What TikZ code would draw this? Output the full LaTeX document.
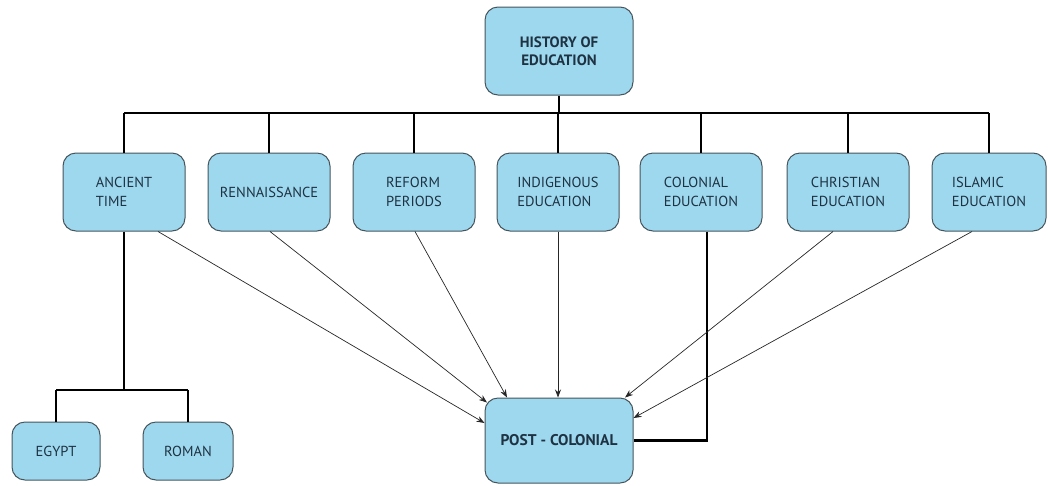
\documentclass[tikz,border=0pt]{standalone}
\usepackage{fontspec}
\setmainfont{PT Sans}
\usetikzlibrary{calc,arrows.meta}
\definecolor{boxfill}{RGB}{158,216,238}
\definecolor{boxline}{RGB}{70,85,92}
\definecolor{txt}{RGB}{30,50,66}
\begin{document}
\begin{tikzpicture}[x=1pt,y=-1pt,
  box/.style={draw=boxline, fill=boxfill, line width=1pt, rounded corners=13pt,
    minimum width=122pt, minimum height=78pt, inner sep=0pt, text=txt, align=left,
    font=\fontsize{14.5}{19}\selectfont},
  trunk/.style={line width=2.8pt, black},
  feed/.style={line width=0.7pt, draw=black!85, -{Stealth[length=8pt,width=6pt]}}]
\useasboundingbox (0,0) rectangle (1048,485);
% nodes
\node[box, minimum width=148pt, minimum height=88pt, align=center,
      font=\bfseries\fontsize{15}{18}\selectfont] (top) at (559,51) {HISTORY OF\\EDUCATION};
\node[box] (anc) at (124,192) {ANCIENT\\TIME};
\node[box] (ren) at (269,192) {RENNAISSANCE};
\node[box] (ref) at (414,192) {REFORM\\PERIODS};
\node[box] (ind) at (558,192) {INDIGENOUS\\EDUCATION};
\node[box] (col) at (701,192) {COLONIAL\\EDUCATION};
\node[box] (chr) at (848,192) {CHRISTIAN\\EDUCATION};
\node[box, minimum width=114pt] (isl) at (989,192) {ISLAMIC\\EDUCATION};
\node[box, minimum width=88pt, minimum height=58pt] (egy) at (56,451) {EGYPT};
\node[box, minimum width=90pt, minimum height=58pt] (rom) at (188,451) {ROMAN};
\node[box, minimum width=148pt, minimum height=85pt, align=center,
      font=\bfseries\fontsize{15.5}{18}\selectfont] (post) at (559,440.5) {POST - COLONIAL};
% bus coordinates
\coordinate (bus) at (0,113);
\coordinate (sub) at (0,390);
% top tree
\draw[trunk] (top.south) -- (top.south |- bus);
\draw[trunk] (anc.north |- bus) -- (isl.north |- bus);
\foreach \n in {anc,ren,ref,ind,col,chr,isl}
  \draw[trunk] (\n.north) -- (\n.north |- bus);
% ancient subtree
\draw[trunk] (anc.south) -- (anc.south |- sub);
\draw[trunk] (egy.north |- sub) -- (rom.north |- sub);
\draw[trunk] (egy.north) -- (egy.north |- sub);
\draw[trunk] (rom.north) -- (rom.north |- sub);
% colonial to post-colonial
\draw[trunk] ($(col.south)+(6,0)$) |- (post.east);
% feeds
\draw[feed] ($(anc.south)+(34,0)$) -- ($(post.west)+(0,-17.5)$);
\draw[feed] ($(ren.south)+(1,0)$) -- ($(post.center)+(-72,-38)$);
\draw[feed] ($(ref.south)+(1,0)$) -- ($(post.north)+(-52,0)$);
\draw[feed] (ind.south) -- (ind.south |- post.north);
\draw[feed] ($(chr.south)+(-15,0)$) -- ($(post.north)+(66,0)$);
\draw[feed] ($(isl.south)+(-17,0)$) -- ($(post.east)+(0,-22.5)$);
\end{tikzpicture}
\end{document}
